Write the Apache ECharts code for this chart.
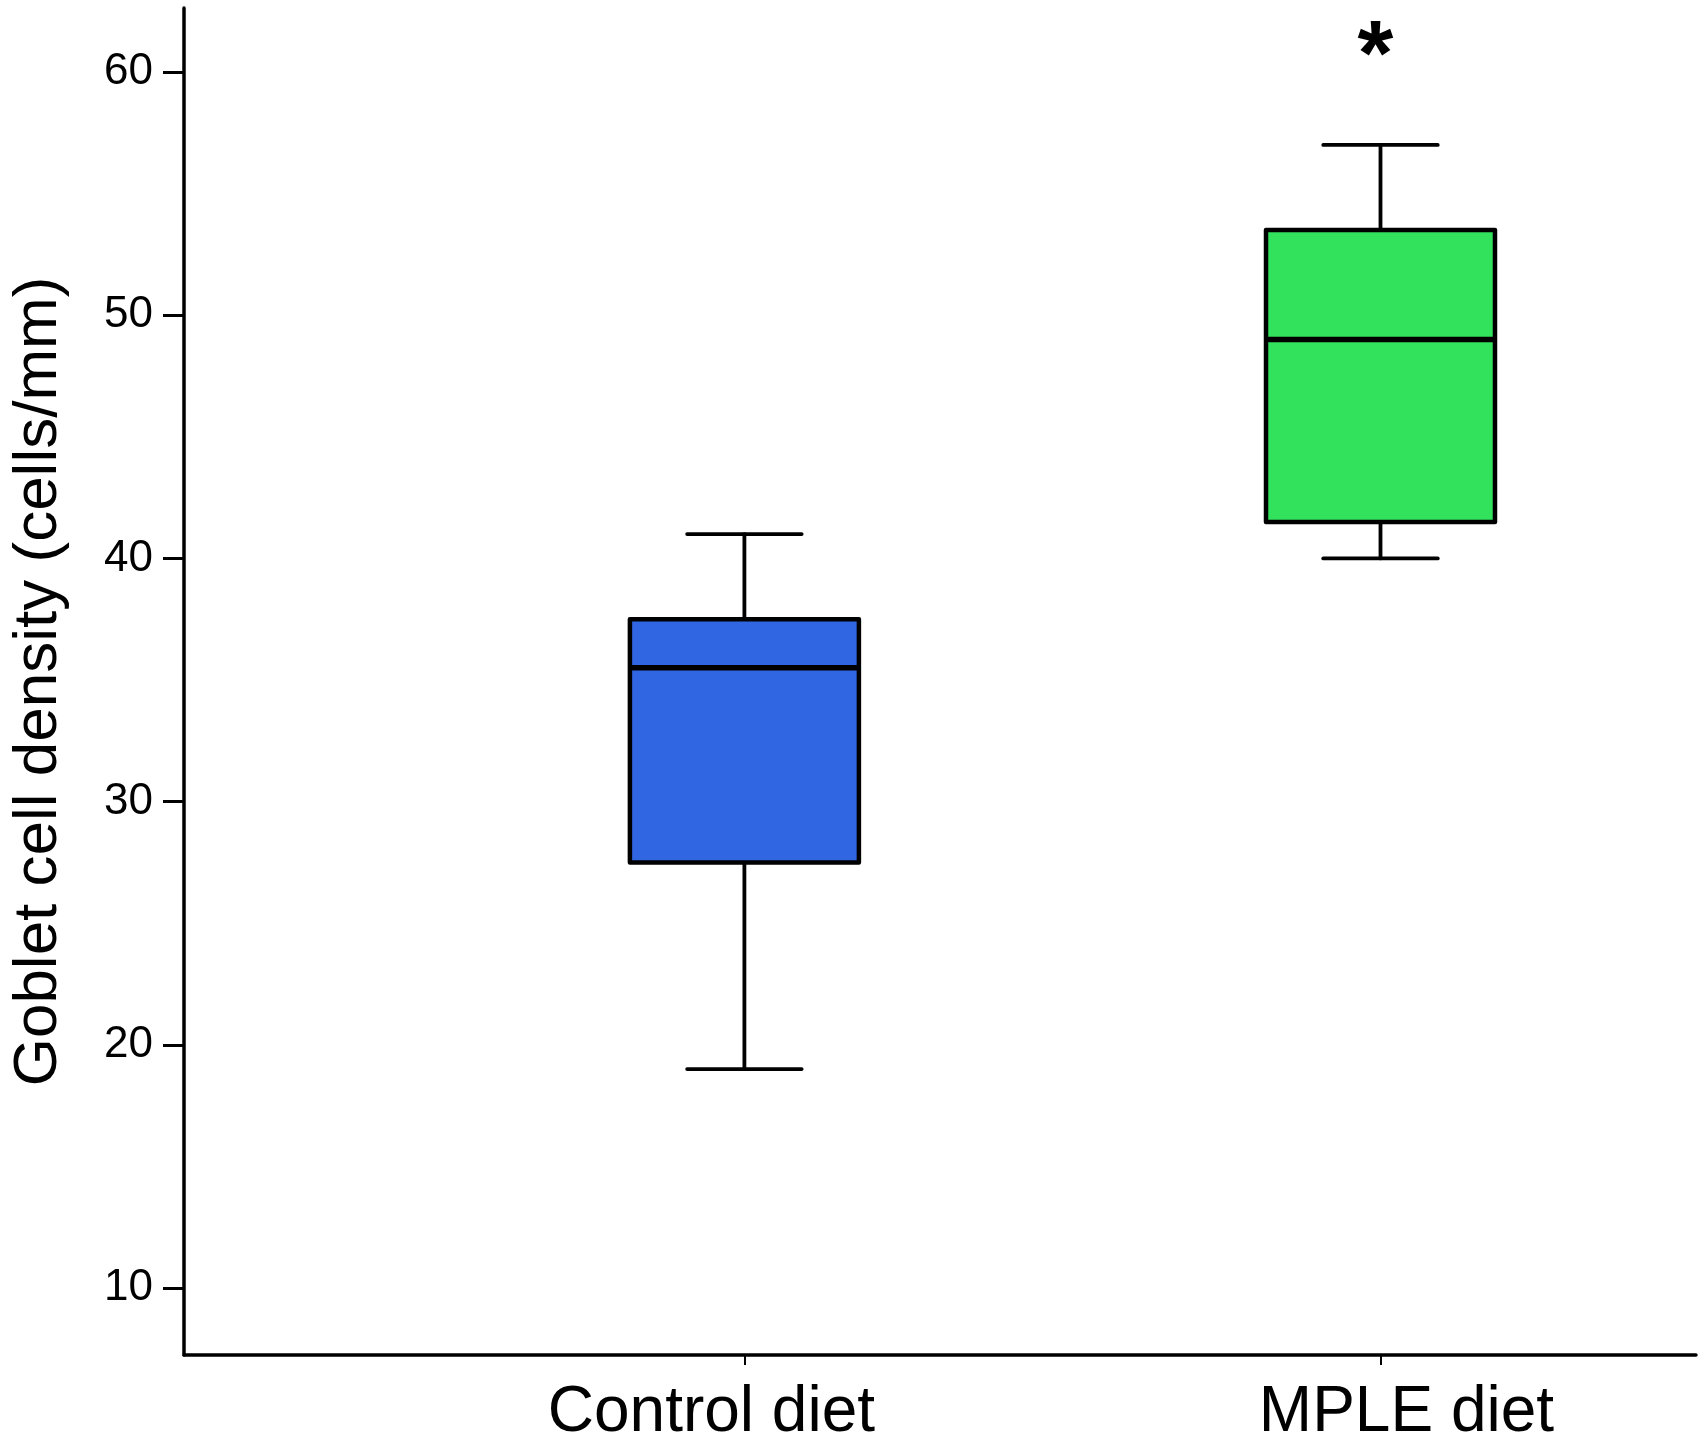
<!DOCTYPE html>
<html>
<head>
<meta charset="utf-8">
<script src="https://cdn.jsdelivr.net/npm/echarts@6/dist/echarts.min.js"></script>
<style>
html,body{margin:0;padding:0;background:#fff;}
#chart{width:1701px;height:1452px;}
</style>
</head>
<body>
<div id="chart"></div>
<script>
// ---- data ----
const categories = ['Control diet', 'MPLE diet'];
const whiskerMin = [19, 40];
const q1Values = [27.5, 41.5];
const medians = [35.5, 49];
const q3Values = [37.5, 53.5];
const whiskerMax = [41, 57];
const significance = ['', '*'];
const yTickValues = [10, 20, 30, 40, 50, 60];
const boxColors = ['#3166E3', '#33E25C'];

const FONT = "'Liberation Sans', Arial, Helvetica, sans-serif";

const boxData = categories.map((c, i) => [i, whiskerMin[i], q1Values[i], medians[i], q3Values[i], whiskerMax[i]]);

const chart = echarts.init(document.getElementById('chart'), null, {renderer: 'canvas'});

function renderBox(params, api) {
  const i = api.value(0);
  const unit = api.size([1, 0])[0];
  const halfW = unit * 0.18;
  const capHalf = halfW * 0.5;
  const pMin = api.coord([i, api.value(1)]);
  const pQ1 = api.coord([i, api.value(2)]);
  const pMed = api.coord([i, api.value(3)]);
  const pQ3 = api.coord([i, api.value(4)]);
  const pMax = api.coord([i, api.value(5)]);
  const cx = pMed[0];
  const lineStyle = {stroke: '#000', lineWidth: 3.8, lineCap: 'round'};
  const children = [
    {type: 'line', shape: {x1: cx, y1: pQ3[1], x2: cx, y2: pMax[1]}, style: lineStyle},
    {type: 'line', shape: {x1: cx, y1: pQ1[1], x2: cx, y2: pMin[1]}, style: lineStyle},
    {type: 'line', shape: {x1: cx - capHalf, y1: pMax[1], x2: cx + capHalf, y2: pMax[1]}, style: lineStyle},
    {type: 'line', shape: {x1: cx - capHalf, y1: pMin[1], x2: cx + capHalf, y2: pMin[1]}, style: lineStyle},
    {type: 'rect', shape: {x: cx - halfW, y: pQ3[1], width: halfW * 2, height: pQ1[1] - pQ3[1]},
      style: {fill: boxColors[params.dataIndex], stroke: '#000', lineWidth: 4.5, lineJoin: 'round'}},
    {type: 'line', shape: {x1: cx - halfW, y1: pMed[1], x2: cx + halfW, y2: pMed[1]}, style: {stroke: '#000', lineWidth: 5.5}}
  ];
  const sig = significance[params.dataIndex];
  if (sig) {
    children.push({type: 'text', style: {text: sig, x: cx - 5, y: pMax[1] - 85, align: 'center', verticalAlign: 'middle',
      font: 'bold 92px ' + FONT, fill: '#000'}});
  }
  return {type: 'group', children: children};
}

const option = {
  backgroundColor: '#ffffff',
  animation: false,
  grid: {left: 177, right: 5, top: 8, bottom: 97, containLabel: false},
  xAxis: {
    type: 'value',
    min: -0.881,
    max: 1.496,
    splitLine: {show: false},
    axisLine: {show: true, onZero: false, lineStyle: {color: '#000', width: 3.5, cap: 'round'}},
    axisTick: {show: true, customValues: [0, 1], length: 10, inside: false, lineStyle: {color: '#000', width: 2}},
    axisLabel: {
      show: true,
      customValues: [0, 1],
      margin: 26,
      formatter: function (v) { return '{c' + Math.round(v) + '|' + categories[Math.round(v)] + '}'; },
      rich: {
        c0: {fontFamily: FONT, fontSize: 64, color: '#000', padding: [0, 66, 0, 0]},
        c1: {fontFamily: FONT, fontSize: 64, color: '#000', padding: [0, 0, 0, 52]}
      }
    }
  },
  yAxis: {
    type: 'value',
    min: 7.245,
    max: 62.63,
    name: 'Goblet cell density (cells/mm)',
    nameLocation: 'middle',
    nameGap: 114,
    nameTextStyle: {fontFamily: FONT, fontSize: 62, color: '#000'},
    splitLine: {show: false},
    axisLine: {show: true, onZero: false, lineStyle: {color: '#000', width: 3.5, cap: 'round'}},
    axisTick: {show: true, customValues: yTickValues, length: 21, inside: false, lineStyle: {color: '#000', width: 3}},
    axisLabel: {show: true, customValues: yTickValues, margin: 31, fontFamily: FONT, fontSize: 44, color: '#000'}
  },
  series: [{
    type: 'custom',
    name: 'Goblet cell density',
    renderItem: renderBox,
    encode: {x: 0, y: [1, 2, 3, 4, 5]},
    data: boxData,
    clip: false
  }]
};
chart.setOption(option);
</script>
</body>
</html>
